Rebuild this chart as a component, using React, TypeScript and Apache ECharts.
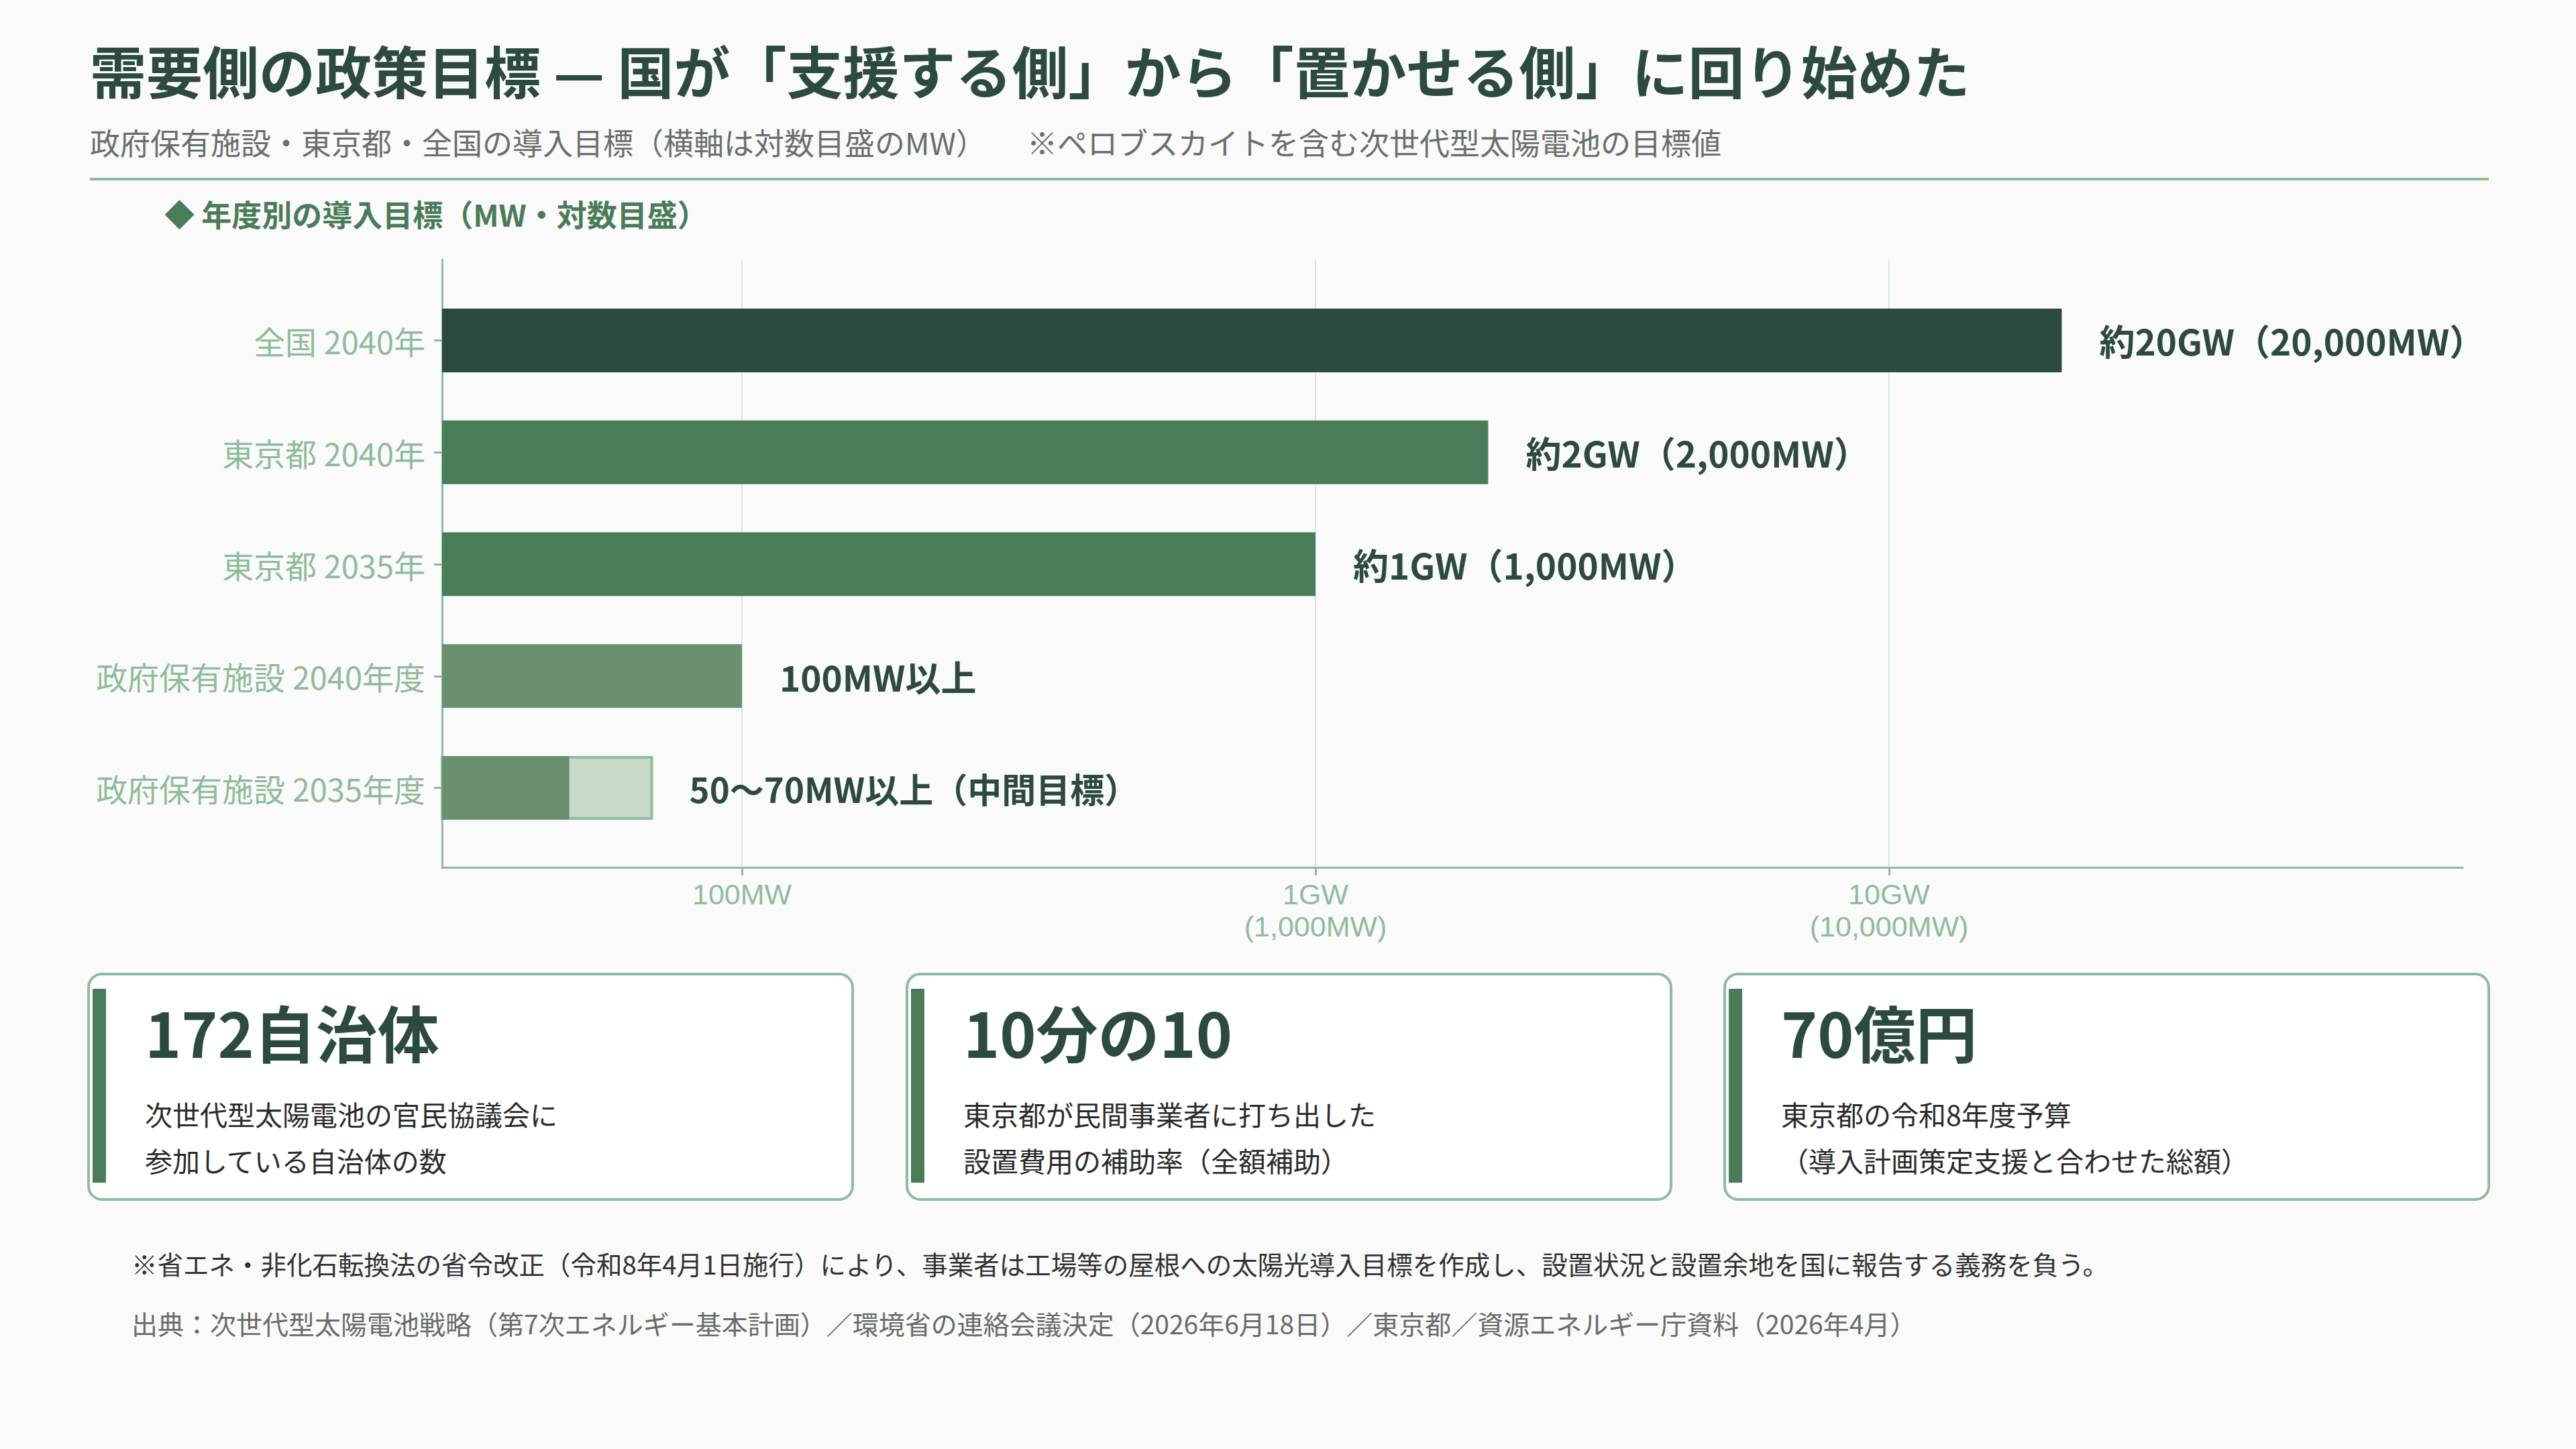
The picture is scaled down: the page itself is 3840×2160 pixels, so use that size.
import React, { useEffect, useRef } from "react";
import * as echarts from "echarts";

const CATEGORIES = [
  "全国 2040年",
  "東京都 2040年",
  "東京都 2035年",
  "政府保有施設 2040年度",
  "政府保有施設 2035年度",
];
const TARGET_MW = [20000, 2000, 1000, 100, 50];
const RANGE_UPPER_MW: (number | string)[] = ["-", "-", "-", "-", 70];
const VALUE_LABELS = [
  "約20GW（20,000MW）",
  "約2GW（2,000MW）",
  "約1GW（1,000MW）",
  "100MW以上",
  "50〜70MW以上（中間目標）",
];
const TICK_LABELS: Record<number, string> = {
  2: "100MW",
  3: "1GW\n(1,000MW)",
  4: "10GW\n(10,000MW)",
};
const AXIS_MIN = 30;
const AXIS_MAX = 100000;

const CARD_VALUES = ["172自治体", "10分の10", "70億円"];
const CARD_LINE1 = ["次世代型太陽電池の官民協議会に", "東京都が民間事業者に打ち出した", "東京都の令和8年度予算"];
const CARD_LINE2 = ["参加している自治体の数", "設置費用の補助率（全額補助）", "（導入計画策定支援と合わせた総額）"];

const TITLE = "需要側の政策目標 — 国が「支援する側」から「置かせる側」に回り始めた";
const SUB1 = "政府保有施設・東京都・全国の導入目標（横軸は対数目盛のMW）";
const SUB2 = "※ペロブスカイトを含む次世代型太陽電池の目標値";
const SECTION = "◆ 年度別の導入目標（MW・対数目盛）";
const NOTE = "※省エネ・非化石転換法の省令改正（令和8年4月1日施行）により、事業者は工場等の屋根への太陽光導入目標を作成し、設置状況と設置余地を国に報告する義務を負う。";
const SOURCE = "出典：次世代型太陽電池戦略（第7次エネルギー基本計画）／環境省の連絡会議決定（2026年6月18日）／東京都／資源エネルギー庁資料（2026年4月）";

const FF = '"Noto Sans CJK JP", "Noto Sans", sans-serif';
const FF_LATIN = '"Liberation Sans", Arial, sans-serif';
const DARK = "#2d4a3e";
const MID = "#4a7c59";
const MUTED = "#6b8f71";
const LIGHT = "#c8dacb";
const LINE = "#8fbc9a";
const BAR_COLORS = [DARK, MID, MID, MUTED, MUTED];

function txt(x: number, y: number, text: string, size: number, color: string, weight = "normal") {
  return {
    type: "text",
    x,
    y,
    silent: true,
    style: {
      text,
      fill: color,
      font: `${weight} ${size}px ${FF}`,
      align: "left",
      verticalAlign: "middle",
      textAlign: "left",
      textVerticalAlign: "middle",
    },
  };
}

export default function App() {
  const ref = useRef<HTMLDivElement>(null);
  useEffect(() => {
    if (!ref.current) return;
    const chart = echarts.init(ref.current, null, { renderer: "svg" });

    const cardW = 1139;
    const cardXs = [132, 1352, 2571];
    const graphics: any[] = [
      txt(134, 103, TITLE, 84, DARK, "bold"),
      txt(134, 211, SUB1, 45, "#68706b"),
      txt(1531, 211, SUB2, 45, "#68706b"),
      {
        type: "line",
        silent: true,
        shape: { x1: 134, y1: 267, x2: 3710, y2: 267 },
        style: { stroke: LINE, lineWidth: 4 },
      },
      txt(245, 318, SECTION, 45, MID, "bold"),
      txt(196, 1883, NOTE, 38.5, "#333333"),
      txt(196, 1972, SOURCE, 39, "#666d68"),
    ];
    cardXs.forEach((cx, i) => {
      graphics.push({
        type: "rect",
        silent: true,
        shape: { x: cx, y: 1452, width: cardW, height: 336, r: 20 },
        style: { fill: "#ffffff", stroke: LINE, lineWidth: 4 },
      });
      graphics.push({
        type: "rect",
        silent: true,
        shape: { x: cx + 6, y: 1474, width: 20, height: 289 },
        style: { fill: MID },
      });
      graphics.push(txt(cx + 84, 1536, CARD_VALUES[i], 92, DARK, "bold"));
      graphics.push(txt(cx + 84, 1660, CARD_LINE1[i], 41, "#2b2b2b"));
      graphics.push(txt(cx + 84, 1729, CARD_LINE2[i], 41, "#2b2b2b"));
    });

    const option: any = {
      animation: false,
      backgroundColor: "#fafafa",
      textStyle: { fontFamily: FF },
      graphic: graphics,
      grid: [
        { left: 659, right: 169, top: 424, bottom: 902 },
        { left: 659, right: 169, top: 387, bottom: 867 },
      ],
      xAxis: [
        {
          gridIndex: 0,
          type: "log",
          logBase: 10,
          min: AXIS_MIN,
          max: AXIS_MAX,
          show: false,
        },
        {
          gridIndex: 1,
          type: "log",
          logBase: 10,
          min: AXIS_MIN,
          max: AXIS_MAX,
          axisLine: { show: true, lineStyle: { color: LINE, width: 3 } },
          axisTick: { show: true, length: 12, lineStyle: { color: LINE, width: 3 } },
          axisLabel: {
            color: LINE,
            fontSize: 43,
            lineHeight: 48,
            margin: 16,
            fontFamily: FF_LATIN,
            showMinLabel: false,
            showMaxLabel: false,
            formatter: (v: number) => TICK_LABELS[Math.round(Math.log10(v))] || "",
          },
          splitLine: {
            show: true,
            showMinLine: false,
            showMaxLine: false,
            lineStyle: { color: "#dbe7df", width: 2 },
          },
        },
      ],
      yAxis: [
        {
          gridIndex: 0,
          type: "category",
          inverse: true,
          data: CATEGORIES,
          axisLine: { show: false },
          axisTick: {
            show: true,
            alignWithLabel: true,
            length: 12,
            lineStyle: { color: LINE, width: 3 },
          },
          axisLabel: { color: LINE, fontSize: 47, margin: 25, fontFamily: FF },
        },
        {
          gridIndex: 1,
          type: "value",
          min: 0,
          max: 1,
          axisLine: { show: true, lineStyle: { color: LINE, width: 3 } },
          axisTick: { show: false },
          axisLabel: { show: false },
          splitLine: { show: false },
        },
      ],
      series: [
        {
          name: "range",
          type: "bar",
          xAxisIndex: 0,
          yAxisIndex: 0,
          barWidth: 95,
          barGap: "-100%",
          clip: true,
          data: RANGE_UPPER_MW,
          itemStyle: { color: LIGHT, borderColor: LINE, borderWidth: 4 },
          label: {
            show: true,
            position: "right",
            distance: 54,
            color: DARK,
            fontSize: 51,
            fontWeight: "bold",
            fontFamily: FF,
            formatter: (p: any) => VALUE_LABELS[p.dataIndex],
          },
        },
        {
          name: "target",
          type: "bar",
          xAxisIndex: 0,
          yAxisIndex: 0,
          barWidth: 95,
          barGap: "-100%",
          clip: true,
          data: TARGET_MW.map((v, i) => ({ value: v, itemStyle: { color: BAR_COLORS[i] } })),
          label: {
            show: true,
            position: "right",
            distance: 56,
            color: DARK,
            fontSize: 53,
            fontWeight: "bold",
            fontFamily: FF,
            formatter: (p: any) => (RANGE_UPPER_MW[p.dataIndex] === "-" ? VALUE_LABELS[p.dataIndex] : ""),
          },
        },
      ],
    };
    chart.setOption(option);
    return () => chart.dispose();
  }, []);
  return (
    <div
      ref={ref}
      style={{ position: "absolute", left: 0, top: 0, width: 3840, height: 2160 }}
    />
  );
}
